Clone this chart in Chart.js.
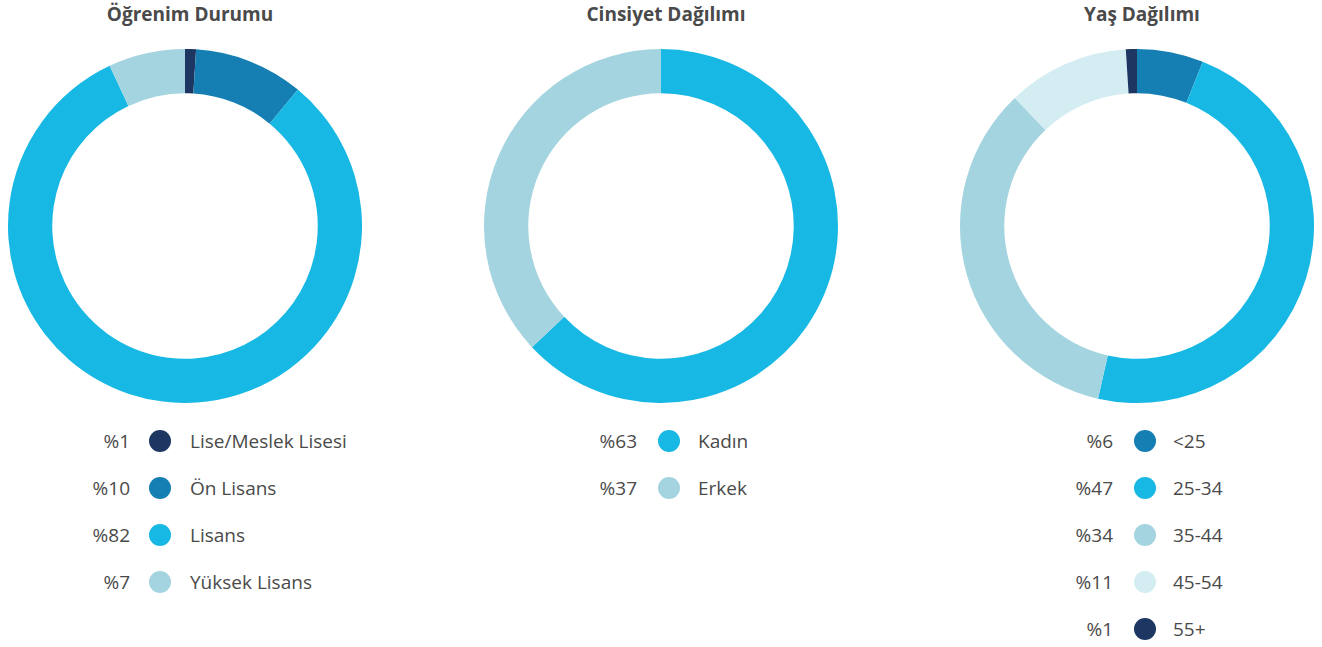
<!DOCTYPE html>
<html><head><meta charset="utf-8">
<script src="https://cdn.jsdelivr.net/npm/chart.js@4/dist/chart.umd.min.js"></script>
<style>
html,body{margin:0;padding:0;background:#fff;}
body{width:1322px;height:647px;position:relative;overflow:hidden;font-family:"Open Sans",sans-serif;color:#4a4a4a;}
.title{position:absolute;top:1px;width:400px;text-align:center;font-weight:700;font-size:19px;color:#4a4a4a;}
.cv{position:absolute;top:49px;}
.leg{position:absolute;top:428px;}
.row{position:relative;height:47px;font-size:19px;line-height:26px;}
.pct{position:absolute;right:0;top:0;text-align:right;white-space:nowrap;}
.dot{position:absolute;width:22px;height:22px;border-radius:50%;top:2px;}
.lab{position:absolute;top:0;white-space:nowrap;}
</style></head><body>
<script>
// ---- data ----
const eduTitle = "Öğrenim Durumu";
const eduLabels = ["Lise/Meslek Lisesi","Ön Lisans","Lisans","Yüksek Lisans"];
const eduValues = [1,10,82,7];
const eduColors = ["#1d3762","#157eb3","#18b8e4","#a3d4df"];

const genTitle = "Cinsiyet Dağılımı";
const genLabels = ["Kadın","Erkek"];
const genValues = [63,37];
const genColors = ["#18b8e4","#a3d4df"];

const ageTitle = "Yaş Dağılımı";
const ageLabels = ["<25","25-34","35-44","45-54","55+"];
const ageValues = [6,47,34,11,1];
const ageColors = ["#157eb3","#18b8e4","#a3d4df","#d3edf2","#1d3762"];

const charts = [
  {title:eduTitle, labels:eduLabels, values:eduValues, colors:eduColors, cx:185, pctRight:130, dotX:160, labX:190},
  {title:genTitle, labels:genLabels, values:genValues, colors:genColors, cx:661, pctRight:637, dotX:669, labX:698},
  {title:ageTitle, labels:ageLabels, values:ageValues, colors:ageColors, cx:1137, pctRight:1113, dotX:1145, labX:1173}
];
const R = 177;

charts.forEach((c,i)=>{
  const t = document.createElement('div');
  t.className='title'; t.textContent=c.title; t.style.left=(c.cx+5-200)+'px';
  document.body.appendChild(t);
  const cv = document.createElement('canvas');
  cv.className='cv'; cv.width=2*R; cv.height=2*R;
  cv.style.left=(c.cx-R)+'px'; cv.style.width=2*R+'px'; cv.style.height=2*R+'px';
  document.body.appendChild(cv);
  new Chart(cv,{
    type:'doughnut',
    data:{labels:c.labels,datasets:[{data:c.values,backgroundColor:c.colors,borderWidth:0}]},
    options:{responsive:false,animation:false,cutout:'75%',
      plugins:{legend:{display:false},tooltip:{enabled:false}},
      layout:{padding:0}}
  });
  const leg = document.createElement('div');
  leg.className='leg'; leg.style.left='0px';
  c.labels.forEach((l,j)=>{
    const row=document.createElement('div'); row.className='row';
    const p=document.createElement('div'); p.className='pct'; p.textContent='%'+c.values[j];
    p.style.right='auto'; p.style.left=(c.pctRight-60)+'px'; p.style.width='60px';
    const d=document.createElement('div'); d.className='dot'; d.style.background=c.colors[j]; d.style.left=(c.dotX-11)+'px';
    const lb=document.createElement('div'); lb.className='lab'; lb.textContent=l; lb.style.left=c.labX+'px';
    row.appendChild(p); row.appendChild(d); row.appendChild(lb);
    leg.appendChild(row);
  });
  document.body.appendChild(leg);
});
</script>
</body></html>
